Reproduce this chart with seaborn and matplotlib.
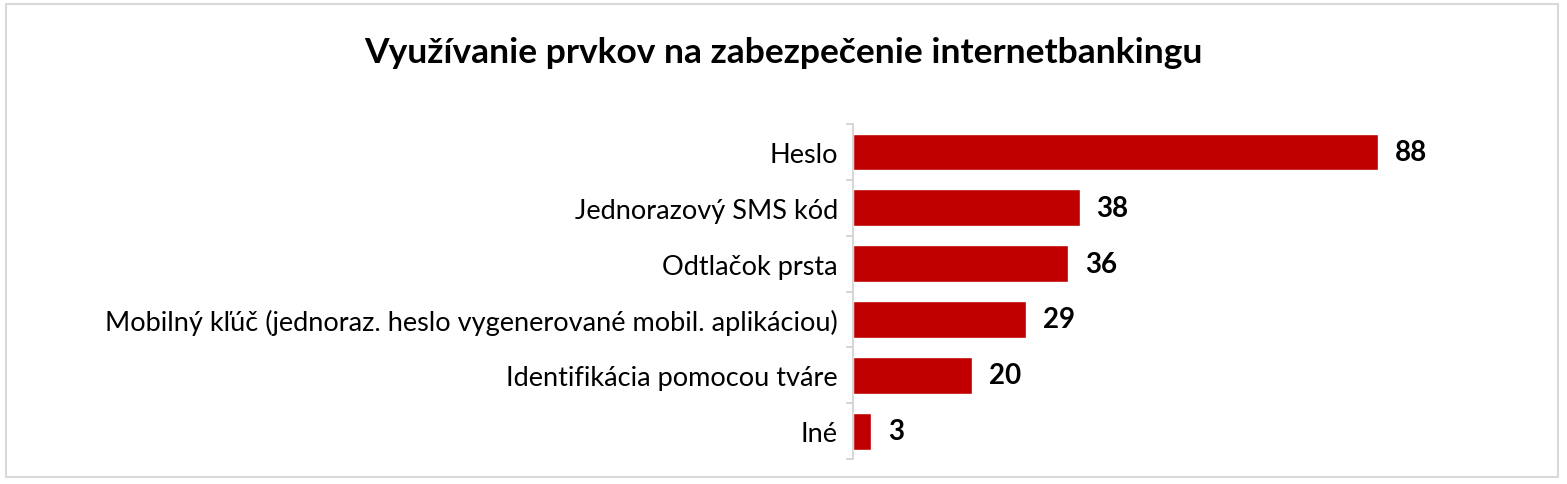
"""
Horizontal bar chart: internet banking security elements.
"""

import numpy as np
import pandas as pd
import matplotlib as mpl
import matplotlib.pyplot as plt
import seaborn as sns

# Data
categories = ['Heslo',
              'Jednorazový SMS kód',
              'Odtlačok prsta',
              'Mobilný kľúč (jednoraz. heslo vygenerované mobil. aplikáciou)',
              'Identifikácia pomocou tváre',
              'Iné']
values = [88, 38, 36, 29, 20, 3]

title = 'Využívanie prvkov na zabezpečenie internetbankingu'

sns.set_theme(style='white')
plt.rcParams['font.family'] = ['Lato', 'DejaVu Sans']

df = pd.DataFrame({'kategoria': categories, 'hodnota': values})

fig = plt.figure(figsize=(15.67, 4.85), dpi=100)
ax = fig.add_axes([0.5444, 0.0515, 0.381, 0.6905])

sns.barplot(data=df, x='hodnota', y='kategoria', color='#C00000',
            saturation=1, width=0.66, ax=ax)

# Data labels
ax.bar_label(ax.containers[0], padding=12, fontsize=20, fontweight='bold',
             color='black')

ax.set_xlim(0, 100)
ax.set_ylim(len(categories) - 0.5, -0.5)
ax.set_xlabel('')
ax.set_ylabel('')
ax.set_xticks([])

# Axis styling: only left spine, with tick marks between categories
for side in ['top', 'right', 'bottom']:
    ax.spines[side].set_visible(False)
ax.spines['left'].set_color('#D0D0D0')
ax.spines['left'].set_linewidth(1.2)
ax.set_yticks(np.arange(-0.5, len(categories)), minor=True)
ax.tick_params(axis='y', which='major', length=0, pad=11, labelsize=19.5,
               labelcolor='black')
ax.tick_params(axis='y', which='minor', length=5, width=1.2, color='#D0D0D0',
               left=True)

fig.text(0.5, 1 - 53 / 485, title, ha='center', va='center', fontsize=25.5,
         fontweight='bold', color='black')

# Light frame around the chart area
frame = mpl.patches.Rectangle((6 / 1567, 7 / 485), 1552 / 1567, 473 / 485,
                              transform=fig.transFigure, fill=False,
                              edgecolor='#D9D9D9', linewidth=1.5)
fig.patches.append(frame)

plt.savefig('out.png', dpi=100)
